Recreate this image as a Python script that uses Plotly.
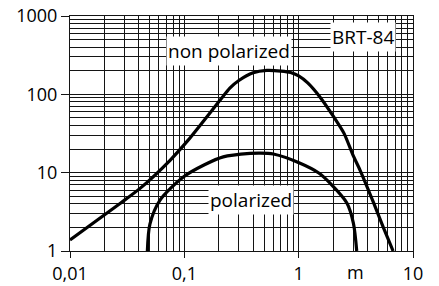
import plotly.graph_objects as go

# Non-polarized curve (distance m, value)
np_x = [0.01, 0.0274, 0.041, 0.075, 0.108, 0.205, 0.25, 0.3, 0.4, 0.526, 0.7, 0.85, 1.0, 1.2, 1.54, 2.0, 2.5, 3.0, 3.44, 4.5, 5.5, 6.7]
np_y = [1.38, 4.05, 6.3, 14.4, 26.0, 84.0, 120.0, 150.0, 188.0, 202.0, 198.0, 190.0, 172.0, 140.0, 92.0, 53.0, 31.5, 16.5, 10.8, 4.2, 2.0, 1.0]

# Polarized curve
p_x = [0.0475, 0.050, 0.0613, 0.098, 0.15, 0.219, 0.376, 0.46, 0.6, 1.03, 1.5, 1.88, 2.64, 3.01, 3.22]
p_y = [1.0, 2.2, 4.46, 8.8, 12.6, 15.9, 17.6, 17.8, 17.3, 13.2, 9.9, 7.35, 4.1, 2.27, 1.0]

x_tickvals = [0.01, 0.1, 1, 10]
x_ticktext = ["0,01", "0,1", "1", "10"]
y_tickvals = [1, 10, 100, 1000]
y_ticktext = ["1", "10", "100", "1000"]

minor_x = [m * d for d in (0.01, 0.1, 1) for m in range(2, 10)]
minor_y = [m * d for d in (1, 10, 100) for m in range(2, 10)]

FONT = "Open Sans"
GRID = "#141414"

fig = go.Figure()
fig.add_trace(go.Scatter(x=np_x, y=np_y, mode="lines",
                         line=dict(color="black", width=3.2, shape="spline", smoothing=0.6),
                         showlegend=False, hoverinfo="skip"))
fig.add_trace(go.Scatter(x=p_x, y=p_y, mode="lines",
                         line=dict(color="black", width=3.2, shape="spline", smoothing=0.8),
                         showlegend=False, hoverinfo="skip"))

axis_common = dict(
    showgrid=True, gridcolor=GRID, gridwidth=1,
    showline=True, linecolor=GRID, linewidth=1, mirror=True,
    ticks="outside", tickcolor=GRID, tickwidth=1,
    tickfont=dict(family=FONT, size=18, color="black"),
    zeroline=False, automargin=False,
)

fig.update_xaxes(type="log", range=[-2, 1], tickvals=x_tickvals, ticktext=x_ticktext,
                 ticklen=6,
                 minor=dict(tickvals=minor_x, showgrid=True, gridcolor=GRID, gridwidth=1, ticklen=0),
                 **axis_common)
fig.update_yaxes(type="log", range=[0, 3], tickvals=y_tickvals, ticktext=y_ticktext,
                 ticklen=8,
                 minor=dict(tickvals=minor_y, showgrid=True, gridcolor=GRID, gridwidth=1, ticklen=0),
                 **axis_common)

ann_font = dict(family=FONT, size=19, color="black")
fig.add_annotation(x=-0.609, y=2.548, xref="x", yref="y", text="non polarized",
                   showarrow=False, font=ann_font, bgcolor="white", borderpad=1)
fig.add_annotation(x=0.563, y=2.726, xref="x", yref="y", text="BRT-84",
                   showarrow=False, font=ann_font, bgcolor="white", borderpad=1)
fig.add_annotation(x=-0.416, y=0.65, xref="x", yref="y", text="polarized",
                   showarrow=False, font=ann_font, bgcolor="white", borderpad=1)
fig.add_annotation(x=0.50, y=0, xref="x", yref="paper", yanchor="top", yshift=-7,
                   text="m", showarrow=False, font=dict(family=FONT, size=18, color="black"))

fig.update_layout(
    width=439, height=286,
    margin=dict(l=70, r=26, t=16, b=35, autoexpand=False),
    paper_bgcolor="white", plot_bgcolor="white",
)

fig.write_html("out.html", config={"displayModeBar": False},
               post_script="document.body.style.margin='0';")
